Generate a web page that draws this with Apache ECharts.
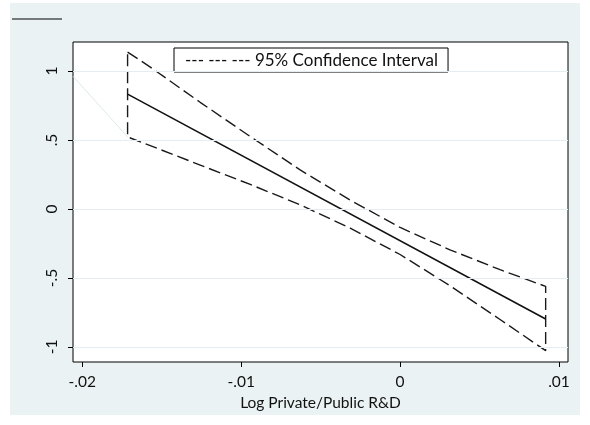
<!DOCTYPE html>
<html>
<head>
<meta charset="utf-8">
<script src="https://cdn.jsdelivr.net/npm/echarts@6/dist/echarts.min.js"></script>
<style>
  html, body { margin: 0; padding: 0; background: #fff; }
  #chart { width: 590px; height: 425px; }
</style>
</head>
<body>
<div id="chart"></div>
<script>
// Fitted effect of log private/public R&D, with its 95% confidence band
const xTicks = [-0.02, -0.01, 0, 0.01];
const xTickLabels = ['-.02', '-.01', '0', '.01'];
const yTicks = [-1, -0.5, 0, 0.5, 1];
const yTickLabels = ['-1', '-.5', '0', '.5', '1'];

const fitX = [-0.01715, 0.00916];
const fitY = [0.832, -0.797];

const ciX     = [-0.01715, -0.01572, -0.01258, -0.00943, -0.00629, -0.00314, 0.0, 0.00314, 0.00629, 0.00916];
const ciUpper = [1.137, 1.028, 0.773, 0.525, 0.283, 0.064, -0.134, -0.296, -0.440, -0.561];
const ciLower = [0.522, 0.459, 0.318, 0.178, 0.030, -0.139, -0.330, -0.556, -0.801, -1.027];

// faint reference segment near the left edge
const faintX = [-0.02058, -0.01715];
const faintY = [0.961, 0.522];

const FONT = 'Lato';
const TXT = '#111';

// closed outline: along the upper bound, down the right end, back along the lower bound, up the left end
const ciLoop = [];
for (let i = 0; i < ciX.length; i++) ciLoop.push([ciX[i], ciUpper[i]]);
for (let i = ciX.length - 1; i >= 0; i--) ciLoop.push([ciX[i], ciLower[i]]);
ciLoop.push([ciX[0], ciUpper[0]]);

const fmt = (ticks, labels) => v => {
  const i = ticks.findIndex(t => Math.abs(t - v) < 1e-9);
  return i >= 0 ? labels[i] : '';
};

const chart = echarts.init(document.getElementById('chart'), null, { renderer: 'canvas' });
chart.setOption({
  backgroundColor: '#ffffff',
  animation: false,
  graphic: [
    { type: 'rect', z: -10, silent: true, shape: { x: 10, y: 3, width: 570, height: 412 }, style: { fill: '#eaf2f3' } },
    { type: 'line', z: 10, silent: true, shape: { x1: 12, y1: 19, x2: 62, y2: 19 }, style: { stroke: '#000', lineWidth: 1.2 } }
  ],
  grid: {
    left: 73, top: 42, right: 22, bottom: 63,
    show: true, backgroundColor: '#ffffff', borderColor: '#000', borderWidth: 1
  },
  legend: {
    left: 174, top: 48,
    padding: [4, 10, 3, 6],
    borderColor: '#000', borderWidth: 1, borderRadius: 0,
    backgroundColor: '#fff',
    itemWidth: 0, itemHeight: 0,
    data: [{ name: '95% Confidence Interval', icon: 'none' }],
    formatter: function (name) { return '--- --- --- ' + name; },
    textStyle: { fontFamily: FONT, fontSize: 17, color: TXT }
  },
  xAxis: {
    type: 'value', min: -0.020585, max: 0.010566,
    name: 'Log Private/Public R&D', nameLocation: 'middle', nameGap: 27,
    nameTextStyle: { fontFamily: FONT, fontSize: 15.5, color: TXT },
    axisLine: { show: false, onZero: false },
    axisTick: { show: true, length: 5, customValues: xTicks, lineStyle: { color: '#000' } },
    axisLabel: {
      customValues: xTicks, margin: 12, fontFamily: FONT, fontSize: 15.5, color: TXT,
      formatter: fmt(xTicks, xTickLabels)
    },
    splitLine: { show: false }
  },
  yAxis: {
    type: 'value', min: -1.109, max: 1.21,
    axisLine: { show: false, onZero: false },
    axisTick: { show: true, length: 5, customValues: yTicks, lineStyle: { color: '#000' } },
    axisLabel: {
      customValues: yTicks, rotate: 90, margin: 13, fontFamily: FONT, fontSize: 15.5, color: TXT,
      formatter: fmt(yTicks, yTickLabels)
    },
    splitLine: { show: false }
  },
  series: [
    {
      name: 'grid', type: 'line', data: [], silent: true,
      markLine: {
        silent: true, symbol: 'none', label: { show: false },
        lineStyle: { color: '#e4edef', width: 1, type: 'solid' },
        data: yTicks.map(v => ({ yAxis: v }))
      }
    },
    {
      name: 'faint', type: 'line', silent: true, symbol: 'none',
      data: faintX.map((x, i) => [x, faintY[i]]),
      lineStyle: { color: '#dfe9eb', width: 1 }
    },
    {
      name: '95% Confidence Interval', type: 'line', silent: true, symbol: 'none',
      data: ciLoop,
      lineStyle: { color: '#1a1a1a', width: 1.4, type: [12, 5] }
    },
    {
      name: 'fit', type: 'line', silent: true, symbol: 'none',
      data: fitX.map((x, i) => [x, fitY[i]]),
      lineStyle: { color: '#111', width: 1.6 }
    }
  ]
});
</script>
</body>
</html>
